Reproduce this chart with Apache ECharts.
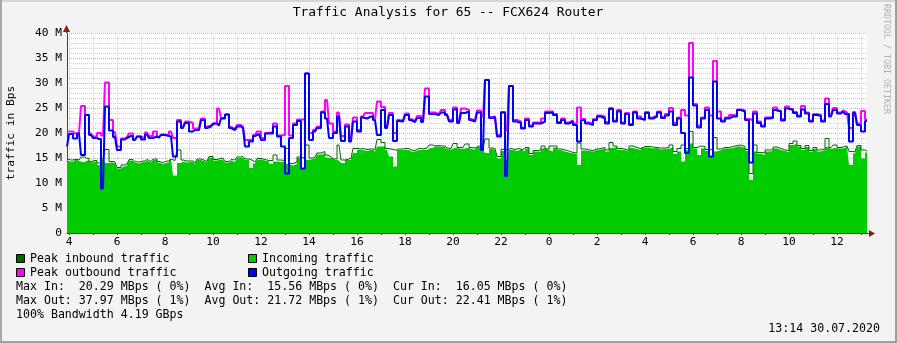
<!DOCTYPE html>
<html><head><meta charset="utf-8">
<script src="https://cdn.jsdelivr.net/npm/echarts@6/dist/echarts.min.js"></script>
<style>html,body{margin:0;padding:0;background:#f3f3f3}#c{width:897px;height:343px}</style>
</head><body><div id="c"></div><script>
// Time axis: hours since 29.07.2020 00:00; samples every 10 minutes from 03:55
const startHour = 3 + 55 / 60;
const stepHours = 10 / 60;
const endHour = 37.25;
const xLabelHours = [4, 6, 8, 10, 12, 14, 16, 18, 20, 22, 24, 26, 28, 30, 32, 34, 36];
const vGridHours = [4,5,6,7,8,9,10,11,12,13,14,15,16,17,18,19,20,21,22,23,24,25,26,27,28,29,30,31,32,33,34,35,36,37];
const yMax = 40, yStep = 5;

// values in M (bytes per second)
const inAvg = [
14.5,14.3,14.6,14.4,14.2,14.5,14.1,14.3,13.6,14.6,
14.0,14.1,13.9,12.9,13.3,13.5,14.5,14.1,13.9,14.2,
14.5,14.1,14.6,14.1,13.8,14.1,14.7,11.5,14.0,14.3,
14.1,14.2,13.8,14.6,14.3,14.1,15.1,14.5,14.6,14.7,
14.1,14.5,14.2,15.0,15.1,14.6,13.0,13.9,14.7,14.5,
14.3,13.8,14.3,14.2,14.3,13.8,13.5,13.8,15.0,12.9,
14.6,14.8,14.9,15.7,15.8,15.1,15.0,14.6,14.5,14.0,
14.6,14.6,16.0,16.6,16.6,16.4,16.6,16.3,17.3,17.3,
16.6,15.3,13.3,16.6,16.6,16.6,16.3,16.3,16.6,16.6,
16.6,17.0,17.3,17.3,17.2,16.8,16.7,17.0,16.9,16.8,
17.0,16.8,16.7,17.2,16.8,16.0,16.8,16.6,14.9,16.4,
14.6,16.6,16.4,16.7,16.3,16.9,15.6,16.3,16.3,16.9,
16.6,16.3,17.1,16.6,16.3,16.1,15.9,15.8,13.6,16.5,
16.4,16.3,16.6,16.7,16.8,16.3,17.0,17.2,16.6,16.6,
16.3,17.0,16.8,16.6,17.1,17.1,16.9,17.0,16.7,16.8,
16.8,17.2,15.8,16.3,14.3,16.6,17.9,16.9,15.6,16.9,
16.4,15.3,16.3,16.6,16.9,16.9,17.0,17.3,17.3,17.0,
16.4,10.6,16.3,15.8,15.6,16.3,16.4,16.9,16.6,16.4,
16.2,17.6,17.8,17.3,16.6,17.2,16.3,16.8,16.3,16.6,
17.2,16.8,17.0,16.9,16.9,17.2,13.6,15.9,17.3,14.9,
16.1];
const inPeak = [
14.8,14.6,14.7,14.6,15.2,14.9,14.3,14.5,14.0,14.8,
16.7,14.3,14.2,13.1,13.6,13.8,14.7,14.3,14.2,14.4,
14.7,14.3,14.8,14.3,14.1,14.4,14.8,14.5,16.6,14.6,
14.4,14.4,14.0,14.8,14.5,14.3,15.3,14.7,14.8,15.0,
14.3,14.7,14.6,15.2,15.3,14.8,14.5,14.2,14.9,14.7,
14.5,14.5,15.6,14.6,14.5,16.9,13.9,14.2,15.2,14.9,
17.6,15.0,15.2,16.0,16.3,15.6,15.3,14.8,17.6,14.6,
14.8,14.9,16.9,16.8,16.9,16.7,16.8,16.6,18.7,18.1,
16.9,16.8,16.6,16.8,16.8,16.9,16.6,16.5,16.9,16.8,
17.0,17.6,17.4,17.5,17.4,17.0,16.9,17.9,17.1,17.1,
17.8,17.1,17.0,17.4,17.0,18.8,17.0,16.9,15.3,16.7,
16.6,16.9,16.7,16.9,16.6,17.1,15.9,16.5,16.6,17.4,
16.8,17.4,17.4,16.8,16.6,16.4,16.1,16.0,18.0,16.8,
16.6,16.5,16.8,16.9,17.1,16.6,18.1,17.4,16.9,16.8,
16.5,17.4,17.1,16.9,17.3,17.3,17.2,17.1,17.0,17.0,
17.1,17.6,16.3,16.9,17.6,16.9,20.3,17.1,17.4,17.3,
16.7,16.6,19.1,16.8,17.1,17.1,17.3,17.5,17.6,17.3,
16.7,11.9,17.6,16.1,16.0,16.6,16.6,17.2,16.9,16.6,
16.5,17.9,18.4,17.5,16.9,17.5,16.5,17.1,16.6,16.8,
18.9,17.1,17.6,17.1,17.2,17.4,16.3,16.2,17.5,16.6,
16.4];
const outAvg = [
17.3,19.8,18.9,19.9,15.6,23.6,19.6,19.0,18.8,8.9,
25.3,20.5,19.2,16.6,18.7,19.0,19.4,18.6,19.3,18.7,
19.7,19.0,19.3,19.1,19.6,19.4,19.3,15.3,22.3,21.0,
22.0,20.3,20.6,20.6,22.6,21.0,21.3,21.9,21.5,22.9,
23.7,21.0,20.6,21.3,21.0,17.3,18.3,19.4,19.8,18.6,
19.9,19.9,21.3,19.3,17.3,11.9,19.0,21.6,22.4,12.9,
31.9,18.6,20.3,21.0,24.1,22.9,19.0,20.0,23.3,18.4,
21.3,18.3,22.3,20.3,23.1,22.9,23.3,22.6,19.6,24.6,
21.0,23.6,18.4,22.4,22.3,23.6,22.6,22.2,23.0,22.2,
27.3,23.8,23.8,23.6,24.1,23.6,22.3,24.7,22.0,24.0,
24.3,22.6,22.3,24.1,16.6,30.6,23.0,23.2,19.3,24.1,
11.4,29.4,22.3,22.0,20.9,22.6,21.3,21.9,21.9,22.3,
24.0,24.1,23.6,22.0,22.6,21.9,22.3,21.6,18.3,22.6,
21.9,21.6,22.6,23.3,22.9,21.9,24.8,22.3,24.3,21.9,
23.8,21.6,24.1,22.9,22.6,24.0,22.9,23.3,24.1,23.0,
23.5,24.3,21.6,22.9,20.0,16.0,31.1,25.5,21.1,22.9,
24.6,15.3,30.3,22.9,22.3,22.9,23.3,23.3,24.6,24.3,
22.6,14.1,23.9,22.0,21.3,22.9,23.0,24.6,24.3,22.5,
24.9,24.6,24.0,23.3,24.7,23.9,22.3,23.6,23.4,22.3,
25.8,23.3,24.6,23.9,24.3,23.8,18.3,24.0,21.6,20.3,
22.4];
const outPeak = [
20.3,20.3,19.9,20.0,25.4,23.6,19.9,19.3,20.0,19.5,
30.1,22.6,20.2,17.3,18.9,19.2,19.9,18.8,19.3,18.9,
20.1,19.4,20.3,19.2,19.7,19.5,20.3,19.0,22.6,21.3,
22.3,22.0,20.9,20.9,22.9,21.3,21.5,21.9,24.9,23.0,
23.7,21.2,20.8,21.6,21.3,18.6,18.6,19.6,20.3,19.0,
20.0,20.2,21.9,19.5,19.6,29.4,19.5,21.9,22.7,22.7,
31.9,20.0,20.6,21.3,24.3,26.6,21.9,20.3,24.1,19.4,
21.7,19.0,23.1,20.6,23.3,24.0,24.0,22.8,26.3,25.2,
21.3,24.0,20.0,22.6,22.5,23.9,22.8,22.4,23.4,22.4,
28.9,24.1,24.1,23.8,24.6,23.8,22.6,25.1,22.4,24.9,
24.6,22.8,22.5,24.5,23.3,30.6,23.2,23.3,19.6,24.2,
20.6,29.4,22.6,22.3,21.1,22.9,21.5,22.1,22.0,22.9,
24.3,24.3,23.8,22.2,22.9,22.1,22.5,21.9,25.1,22.8,
22.1,21.9,22.8,23.5,23.3,22.2,25.0,22.5,24.6,22.1,
24.0,21.8,24.3,23.3,22.8,24.2,23.1,23.5,24.3,23.2,
23.8,25.0,22.0,23.1,24.6,23.5,38.0,25.8,21.5,23.1,
25.1,23.5,34.4,24.3,22.5,23.1,23.6,23.5,24.7,24.5,
22.8,22.6,24.3,22.3,21.5,23.1,23.2,25.1,24.4,22.8,
25.3,24.8,24.2,23.5,25.4,24.1,22.5,23.8,23.6,22.5,
26.9,23.6,25.0,24.1,24.5,24.1,21.0,24.2,21.9,24.4,
22.7];

const titleText = 'Traffic Analysis for 65 -- FCX624 Router';
const legendItems = [
  ['Peak inbound traffic', '#006600'], ['Incoming traffic', '#00cc00'],
  ['Peak outbound traffic', '#ff00ff'], ['Outgoing traffic', '#0000ff']];
const statLines = [
  'Max In:  20.29 MBps ( 0%)  Avg In:  15.56 MBps ( 0%)  Cur In:  16.05 MBps ( 0%)',
  'Max Out: 37.97 MBps ( 1%)  Avg Out: 21.72 MBps ( 1%)  Cur Out: 22.41 MBps ( 1%)',
  '100% Bandwidth 4.19 GBps'];
const stampText = '13:14 30.07.2020';
const sideText = 'RRDTOOL / TOBI OETIKER';

const mono = 'DejaVu Sans Mono';
const pts = arr => arr.map((v, i) => [Math.round((startHour + i * stepHours) * 1e6) / 1e6, v]);

const chart = echarts.init(document.getElementById('c'), null, {renderer: 'canvas'});
const GRID_L = 67, GRID_T = 33, GRID_R = 897 - 867, GRID_B = 343 - 233;

const graphics = [];
graphics.push({type: 'text', x: 448, y: 13, style: {text: titleText, font: '12.9px "' + mono + '"', fill: '#000', textAlign: 'center', textVerticalAlign: 'middle'}});
graphics.push({type: 'text', x: 886, y: 4, rotation: -Math.PI / 2, style: {text: sideText, font: '8.3px "' + mono + '"', fill: '#b0b0b0', textAlign: 'left', textVerticalAlign: 'middle'}});
legendItems.forEach((it, k) => {
  const col = k % 2, row = Math.floor(k / 2);
  const bx = col === 0 ? 16.5 : 248.5, by = 254.5 + row * 14;
  graphics.push({type: 'rect', shape: {x: bx, y: by, width: 8, height: 8}, style: {fill: it[1], stroke: '#000', lineWidth: 1}});
  graphics.push({type: 'text', x: bx + 13.5, y: by + 4, style: {text: it[0], font: '11.6px "' + mono + '"', fill: '#000', textAlign: 'left', textVerticalAlign: 'middle'}});
});
statLines.forEach((t, k) => {
  graphics.push({type: 'text', x: 16, y: 287 + k * 14, style: {text: t, font: '11.6px "' + mono + '"', fill: '#000', textAlign: 'left', textVerticalAlign: 'middle'}});
});
graphics.push({type: 'text', x: 880, y: 329, style: {text: stampText, font: '11.6px "' + mono + '"', fill: '#000', textAlign: 'right', textVerticalAlign: 'middle'}});
// frame
graphics.push({type: 'line', shape: {x1: 0, y1: 1, x2: 897, y2: 1}, style: {stroke: '#d6d6d6', lineWidth: 2}});
graphics.push({type: 'line', shape: {x1: 1, y1: 0, x2: 1, y2: 343}, style: {stroke: '#a8a8a8', lineWidth: 2}});
graphics.push({type: 'line', shape: {x1: 896, y1: 0, x2: 896, y2: 343}, style: {stroke: '#a0a0a0', lineWidth: 2}});
graphics.push({type: 'line', shape: {x1: 0, y1: 342, x2: 897, y2: 342}, style: {stroke: '#a0a0a0', lineWidth: 2}});

const vGridColors = vGridHours.map(h => h % 24 === 0 ? '#e6a0a0' : '#cfcfcf');

const lineBase = {type: 'line', step: 'middle', showSymbol: false, symbol: 'none', silent: true, animation: false, clip: true};

chart.setOption({
  backgroundColor: '#f3f3f3',
  animation: false,
  textStyle: {fontFamily: mono},
  grid: {left: GRID_L, top: GRID_T, right: GRID_R, bottom: GRID_B, containLabel: false, outerBoundsMode: 'none',
         show: true, backgroundColor: '#ffffff', borderWidth: 0},
  xAxis: {
    type: 'value', min: startHour, max: endHour + 1e-6,
    axisLine: {show: true, lineStyle: {color: '#404040', width: 1}},
    axisTick: {show: true, customValues: vGridHours, length: 2, lineStyle: {color: '#404040'}},
    axisLabel: {customValues: xLabelHours, formatter: v => String(Math.round(v) % 24), color: '#000', fontFamily: mono, fontSize: 11.2, margin: 4},
    splitLine: {show: true, lineStyle: {color: vGridColors, type: [1, 1], width: 1}}
  },
  yAxis: {
    type: 'value', min: 0, max: yMax, interval: yStep,
    name: 'traffic in Bps', nameLocation: 'middle', nameGap: 50, nameRotate: 90,
    nameTextStyle: {fontFamily: mono, fontSize: 11.2, color: '#000'},
    axisLine: {show: true, lineStyle: {color: '#404040', width: 1}},
    axisTick: {show: false},
    axisLabel: {formatter: v => v === 0 ? '0' : v + ' M', color: '#000', fontFamily: mono, fontSize: 11.2, margin: 5},
    splitLine: {show: true, lineStyle: {color: '#e6a0a0', type: [1, 1], width: 1}},
    minorTick: {show: false, splitNumber: 5},
    minorSplitLine: {show: true, lineStyle: {color: '#cfcfcf', type: [1, 1], width: 1}}
  },
  series: [
    Object.assign({}, lineBase, {name: 'Incoming traffic', data: pts(inAvg), z: 2, lineStyle: {width: 0, color: '#00cc00'}, areaStyle: {color: '#00cc00', opacity: 1}}),
    Object.assign({}, lineBase, {name: 'Peak inbound traffic', data: pts(inPeak), z: 3, lineStyle: {width: 1, color: '#006600'}}),
    Object.assign({}, lineBase, {name: 'Peak outbound traffic', data: pts(outPeak), z: 4, lineStyle: {width: 2, color: '#ff00ff'}}),
    Object.assign({}, lineBase, {name: 'Outgoing traffic', data: pts(outAvg), z: 5, lineStyle: {width: 2, color: '#0000ff'}})
  ],
  graphic: graphics
});

// axis arrows placed through the library's coordinate conversion
const pR = chart.convertToPixel({gridIndex: 0}, [endHour, 0]);
const pT = chart.convertToPixel({gridIndex: 0}, [startHour, yMax]);
chart.setOption({graphic: graphics.concat([
  {type: 'line', shape: {x1: pR[0], y1: pR[1] + 0.5, x2: pR[0] + 3, y2: pR[1] + 0.5}, style: {stroke: '#404040', lineWidth: 1}},
  {type: 'polygon', shape: {points: [[pR[0] + 2, pR[1] - 3], [pR[0] + 8, pR[1] + 0.5], [pR[0] + 2, pR[1] + 4]]}, style: {fill: '#8b1a1a'}},
  {type: 'line', shape: {x1: pT[0] - 0.5, y1: pT[1], x2: pT[0] - 0.5, y2: pT[1] - 2}, style: {stroke: '#404040', lineWidth: 1}},
  {type: 'polygon', shape: {points: [[pT[0] - 4, pT[1] - 1], [pT[0] - 0.5, pT[1] - 8], [pT[0] + 3, pT[1] - 1]]}, style: {fill: '#8b1a1a'}}
])});
</script></body></html>
